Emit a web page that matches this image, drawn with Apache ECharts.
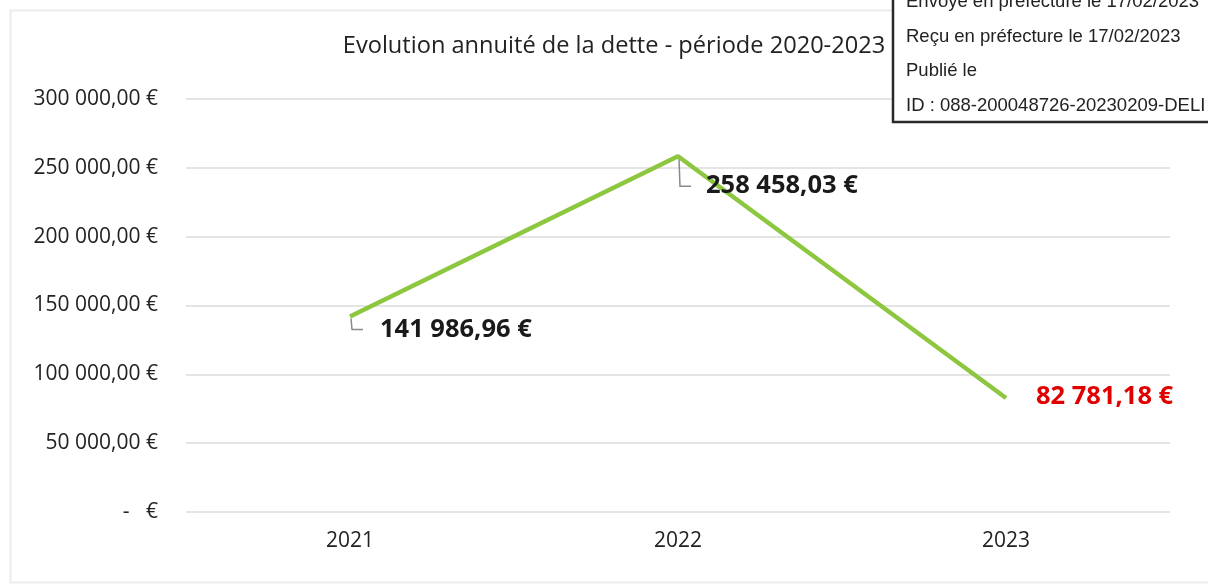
<!DOCTYPE html>
<html>
<head>
<meta charset="utf-8">
<title>Evolution annuité de la dette</title>
<script src="https://cdn.jsdelivr.net/npm/echarts@6/dist/echarts.min.js"></script>
<style>
  html, body { margin: 0; padding: 0; background: #fff; }
  #chart { width: 1208px; height: 584px; }
</style>
</head>
<body>
<div id="chart"></div>
<script>
// données
const years = ['2021', '2022', '2023']
const annuites = [141986.96, 258458.03, 82781.18]
const stampLines = [
  'Envoyé en préfecture le 17/02/2023',
  'Reçu en préfecture le 17/02/2023',
  'Publié le',
  'ID : 088-200048726-20230209-DELI'
]

// format français : 141 986,96 €
function euro (v, dec) {
  const parts = v.toFixed(dec).split('.')
  const ent = parts[0].replace(/\B(?=(\d{3})+(?!\d))/g, ' ')
  return ent + ',' + parts[1] + ' €'
}

// placement des étiquettes (style)
const labelStyle = [
  { dx: 30, dy: 13, color: '#1a1a1a', leader: true },
  { dx: 28, dy: 30, color: '#1a1a1a', leader: true },
  { dx: 30, dy: -1, color: '#e00000', leader: false }
]

const chart = echarts.init(document.getElementById('chart'))

const option = {
  backgroundColor: '#fff',
  animation: false,
  title: {
    text: 'Evolution annuité de la dette - période 2020-2023',
    left: 609,
    top: 29,
    textAlign: 'center',
    textStyle: {
      fontFamily: 'Open Sans',
      fontWeight: 'normal',
      fontSize: 23.6,
      color: '#222'
    }
  },
  grid: {
    left: 186,
    right: 38,
    top: 99,
    bottom: 72
  },
  xAxis: {
    type: 'category',
    data: years,
    axisLine: { show: false },
    axisTick: { show: false },
    axisLabel: {
      margin: 19,
      fontFamily: 'Open Sans',
      fontSize: 21,
      color: '#222'
    }
  },
  yAxis: {
    type: 'value',
    min: 0,
    max: 300000,
    interval: 50000,
    axisLine: { show: false },
    axisTick: { show: false },
    splitLine: { lineStyle: { color: '#e4e4e4', width: 2 } },
    axisLabel: {
      margin: 28,
      fontFamily: 'Open Sans',
      fontSize: 21,
      color: '#222',
      formatter: v => v === 0 ? '-   €' : euro(v, 2)
    }
  },
  series: [
    {
      type: 'line',
      data: annuites.map((v, i) => ({
        value: v,
        label: {
          show: true,
          position: 'inside',
          align: 'left',
          offset: [labelStyle[i].dx, labelStyle[i].dy],
          formatter: euro(v, 2),
          color: labelStyle[i].color
        }
      })),
      symbol: 'circle',
      symbolSize: 2,
      itemStyle: { color: 'rgba(0,0,0,0)', borderWidth: 0 },
      lineStyle: { color: '#8dc63f', width: 4.5 },
      label: {
        fontFamily: 'Open Sans',
        fontWeight: 'bold',
        fontSize: 25.5
      },
      z: 3
    },
    {
      // traits de rappel des étiquettes
      type: 'custom',
      data: annuites.map((v, i) => [i, v]),
      silent: true,
      z: 2,
      renderItem: function (params, api) {
        const s = labelStyle[params.dataIndex]
        if (!s.leader) return
        const p = api.coord([api.value(0), api.value(1)])
        return {
          type: 'polyline',
          shape: {
            points: [
              [p[0] + 1, p[1] + 2],
              [p[0] + 2, p[1] + s.dy],
              [p[0] + 13, p[1] + s.dy]
            ]
          },
          style: { stroke: '#8a8a8a', lineWidth: 1.5, fill: null }
        }
      }
    }
  ],
  graphic: [
    {
      type: 'rect',
      left: 8,
      top: 8,
      shape: { width: 1300, height: 572 },
      style: { fill: null, stroke: '#ececec', lineWidth: 2 },
      z: -1
    },
    {
      type: 'rect',
      shape: { x: 893, y: -4, width: 330, height: 126 },
      style: { fill: '#fff', stroke: '#2a2a2a', lineWidth: 2.5 },
      z: 10
    }
  ].concat(stampLines.map((t, i) => ({
    type: 'text',
    x: 906,
    y: 2 + i * 34.7,
    style: {
      text: t,
      fill: '#222',
      font: '18.5px "Liberation Sans", Arial, sans-serif',
      textVerticalAlign: 'middle'
    },
    z: 11
  })))
}

chart.setOption(option)
</script>
</body>
</html>
